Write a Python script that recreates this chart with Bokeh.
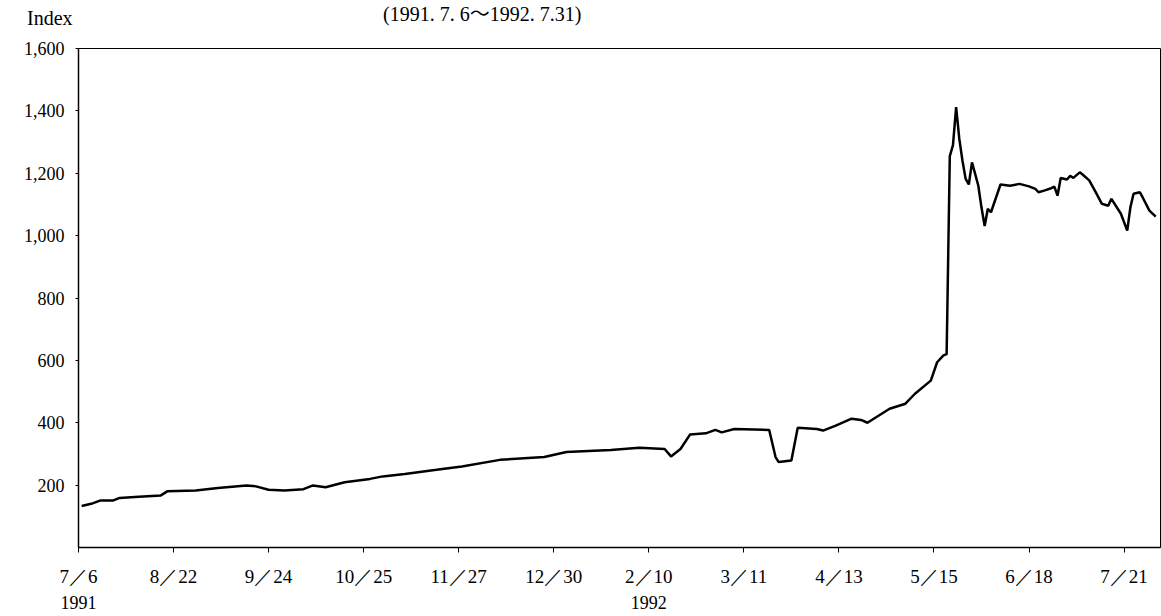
from bokeh.plotting import figure
from bokeh.models import (FixedTicker, NumeralTickFormatter, LinearAxis, Range1d, Div)
from bokeh.layouts import column
from bokeh.embed import file_html
from bokeh.resources import INLINE

# Trading-day index (from 1991-07-06) and index value
day_idx = [1, 4, 7, 11, 13, 19, 26, 28, 37, 44, 53, 56, 60, 65, 71, 74, 78, 84, 92, 96,
           103, 113, 121, 133, 147, 154, 168, 177, 185, 187, 190, 193, 198, 201, 203, 207,
           218, 220, 221, 225, 227, 233, 235, 239, 244, 247, 249, 256, 261, 264, 269, 271,
           273, 274, 275, 276, 277, 278, 279, 280, 281, 282, 283, 284, 285, 286, 287, 288,
           291, 294, 297, 300, 302, 303, 305, 307, 308, 309, 310, 312, 313, 314, 316, 317,
           319, 321, 323, 325, 326, 329, 331, 332, 333, 335, 336, 338, 340]
index_values = [133, 140, 151, 151, 159, 163, 167, 180, 183, 191, 199, 196, 185, 183, 187, 199,
                193, 209, 220, 228, 236, 249, 260, 281, 290, 306, 313, 320, 316, 292, 316, 362,
                366, 377, 369, 380, 377, 290, 274, 279, 384, 380, 375, 391, 413, 409, 400, 445,
                461, 493, 535, 594, 616, 620, 1255, 1290, 1412, 1310, 1240, 1182, 1164, 1235,
                1198, 1160, 1090, 1031, 1086, 1075, 1164, 1160, 1166, 1158, 1150, 1139, 1145,
                1152, 1157, 1128, 1185, 1180, 1192, 1185, 1203, 1195, 1177, 1140, 1102, 1096,
                1118, 1070, 1016, 1091, 1134, 1139, 1120, 1080, 1061]

tick_pos = [0, 30, 60, 90, 120, 150, 180, 210, 240, 270, 300, 330]
tick_labels = ["7／6", "8／22", "9／24", "10／25", "11／27", "12／30", "2／10", "3／11",
               "4／13", "5／15", "6／18", "7／21"]
year_pos = [0, 180]
year_labels = ["1991", "1992"]
y_ticks = [200, 400, 600, 800, 1000, 1200, 1400, 1600]

y_axis_title = "Index"
period_title = "(1991. 7. 6～1992. 7.31)"

FONT = "Liberation Serif"
W = 1161
HEAD_H = 40

# ---- header with the two top texts ----
head_html = (
    '<div style="position:relative;width:%dpx;height:%dpx;font-family:\'%s\',\'Noto Sans CJK JP\',serif;'
    'color:black;line-height:20px;white-space:nowrap;">'
    '<span style="position:absolute;left:27px;top:8px;font-size:20px;">%s</span>'
    '<span style="position:absolute;left:383px;top:4px;font-size:20px;">%s</span>'
    '</div>' % (W, HEAD_H, FONT, y_axis_title, period_title)
)
head = Div(text=head_html, width=W, height=HEAD_H, margin=0)

# ---- main chart ----
p = figure(width=W, height=616 - HEAD_H, output_backend="svg", toolbar_location=None,
           x_range=Range1d(0, 341.5), y_range=Range1d(0, 1600),
           min_border_left=78, min_border_right=1, min_border_top=8, min_border_bottom=69,
           x_axis_type=None, y_axis_type=None)
p.background_fill_color = "white"
p.border_fill_color = "white"
p.outline_line_color = "black"
p.outline_line_width = 1
p.xgrid.visible = False
p.ygrid.visible = False

p.line(day_idx, index_values, line_color="black", line_width=2.5)

# y axis
yaxis = LinearAxis(ticker=FixedTicker(ticks=y_ticks), formatter=NumeralTickFormatter(format="0,0"))
yaxis.major_tick_out = 3
yaxis.major_tick_in = 0
yaxis.minor_tick_line_color = None
yaxis.axis_line_width = 1.5
yaxis.major_label_standoff = 11
yaxis.major_label_text_font = FONT
yaxis.major_label_text_font_size = "18px"
yaxis.major_label_text_color = "black"
p.add_layout(yaxis, "left")

# x axis (dates)
xaxis = LinearAxis(ticker=FixedTicker(ticks=tick_pos))
xaxis.major_label_overrides = {t: l for t, l in zip(tick_pos, tick_labels)}
xaxis.major_tick_out = 5
xaxis.major_tick_in = 0
xaxis.minor_tick_line_color = None
xaxis.axis_line_width = 1.5
xaxis.major_label_standoff = 13
xaxis.major_label_text_font = FONT
xaxis.major_label_text_font_size = "19px"
xaxis.major_label_text_color = "black"
p.add_layout(xaxis, "below")

# x axis (years)
yearaxis = LinearAxis(ticker=FixedTicker(ticks=year_pos))
yearaxis.major_label_overrides = {t: l for t, l in zip(year_pos, year_labels)}
yearaxis.axis_line_color = None
yearaxis.major_tick_line_color = None
yearaxis.minor_tick_line_color = None
yearaxis.major_label_standoff = 0
yearaxis.major_label_text_font = FONT
yearaxis.major_label_text_font_size = "18px"
yearaxis.major_label_text_color = "black"
p.add_layout(yearaxis, "below")

layout = column(head, p, spacing=0)
open("out.html", "w").write(file_html(layout, INLINE))
